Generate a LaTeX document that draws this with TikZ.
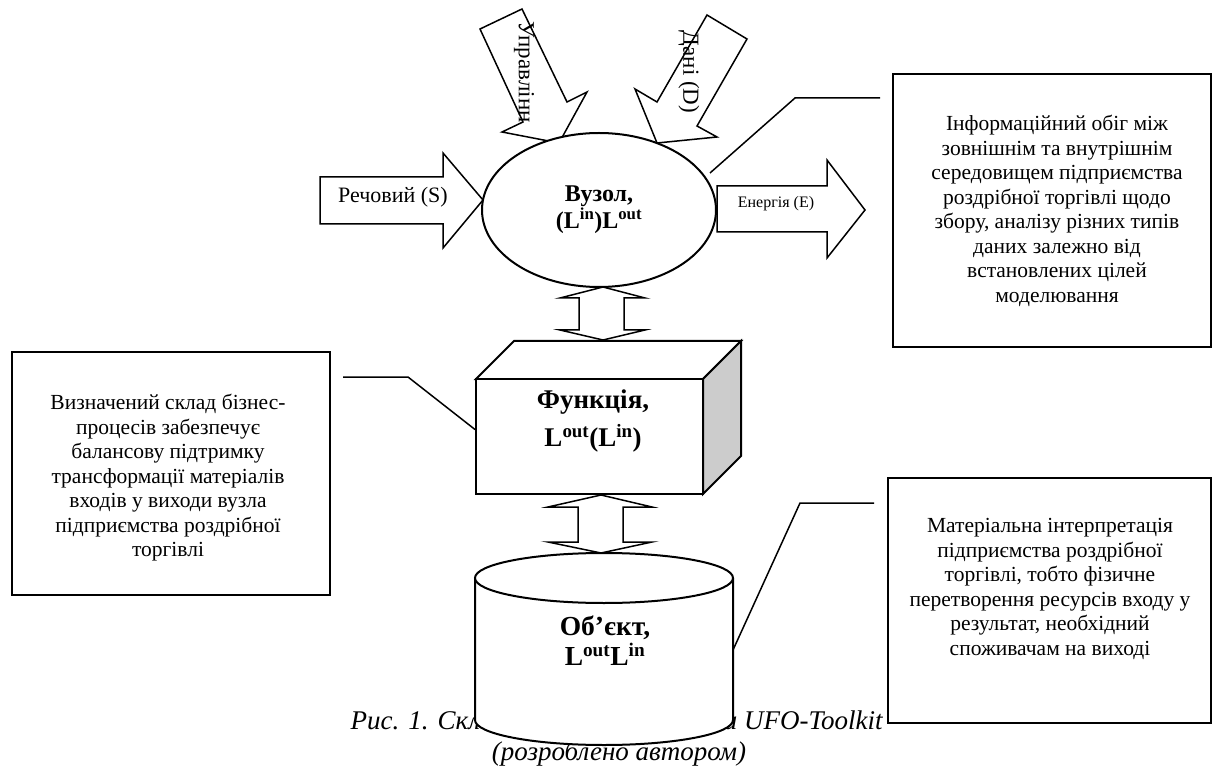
\documentclass[tikz,border=0pt]{standalone}
\usepackage{fontspec}
\setmainfont{Liberation Serif}
\usetikzlibrary{shapes.geometric}
\def\sx#1{\textsuperscript{#1}}

\tikzset{
  blockarrow/.style={draw, line width=1.5pt, fill=white, line join=miter},
  shapeline/.style={draw, line width=2pt, fill=white},
  notebox/.style={draw, line width=1.5pt, fill=white, inner sep=0pt},
  notetext/.style={align=center, font=\fontsize{21.5}{24.5}\selectfont},
  boldlbl/.style={align=center, font=\fontsize{24}{24}\selectfont\bfseries},
  flowlbl/.style={font=\fontsize{22}{24}\selectfont},
  callout/.style={line width=1.5pt},
  capt/.style={font=\fontsize{27}{30}\selectfont\itshape},
}

\begin{document}
\begin{tikzpicture}[x=1pt,y=-1pt]
			%%%%% START %%%%%
			\useasboundingbox (0,0) rectangle (1213,767);
			
			% caption, partly hidden by the cylinder
			\node[capt, anchor=base west] (cap1) at (347,729) {Рис. 1. Складові моделей вузла за UFO-Toolkit};
			\node[capt, anchor=base] (cap2) at (619,760) {(розроблено автором)};
			
			% flows into the node
			\draw[blockarrow] (320,177) -- (443,177) -- (443,153) -- (483,200) -- (443,248) -- (443,224) -- (320,224) -- cycle;
			\node[flowlbl] (rech) at (393,197) {Речовий (S)};
			
			\draw[blockarrow] (480,29) -- (522,9) -- (567,102) -- (587,92) -- (559,143) -- (502,132) -- (523,122) -- cycle;
			\node[flowlbl, rotate=-90, font=\fontsize{23}{24}\selectfont] (upr) at (524,72) {Управлінн};
			
			\draw[blockarrow] (707,15) -- (747,39) -- (697,126) -- (717,137) -- (657,143) -- (635,89) -- (657,102) -- cycle;
			\node[flowlbl, rotate=-90, font=\fontsize{23}{24}\selectfont] (dani) at (689,72) {Дані (D)};
			
			\draw[blockarrow] (717,186) -- (827,186) -- (827,160) -- (865,210) -- (827,258) -- (827,232) -- (717,232) -- cycle;
			\node[font=\fontsize{16}{20}\selectfont] (ener) at (776,204) {Енергія (Е)};
			
			\node[shapeline, ellipse, minimum width=234, minimum height=154, inner sep=0pt, boldlbl] (vuzol) at (599,210) {Вузол,\\(L\sx{in})L\sx{out}};
			
			% node <-> function
			\draw[blockarrow] (603,287) -- (645,298) -- (624,298) -- (624,330) -- (645,330) -- (603,340) -- (560,330) -- (579,330) -- (579,298) -- (560,298) -- cycle;
			
			\draw[shapeline] (476,379) -- (514,341) -- (741,341) -- (703,379) -- cycle;
			\draw[shapeline, fill=black!20] (703,379) -- (741,341) -- (741,456) -- (703,494) -- cycle;
			\node[shapeline, minimum width=227, minimum height=115, inner sep=0pt] (funk) at (589.5,436.5) {};
			\node[boldlbl, font=\fontsize{27}{38}\selectfont\bfseries] (funklbl) at (593,421) {Функція,\\L\sx{out}(L\sx{in})};
			
			% function <-> object
			\draw[blockarrow] (601,495) -- (652,507) -- (623,507) -- (623,542) -- (652,542) -- (601,553) -- (548,542) -- (578,542) -- (578,507) -- (548,507) -- cycle;
			
			\draw[shapeline] (475,578) -- (475,720) arc[start angle=180, end angle=360, x radius=129pt, y radius=25pt] -- (733,578);
			\draw[shapeline] (604,578) ellipse [x radius=129pt, y radius=25pt];
			\node[boldlbl, font=\fontsize{27.5}{30}\selectfont\bfseries] (obj) at (605,641) {Об’єкт,\\L\sx{out}L\sx{in}};
			
			% notes
			\node[notebox, minimum width=318, minimum height=273] (infobox) at (1052,210.5) {};
			\node[notetext] (infotxt) at (1057,211) {Інформаційний обіг між\\зовнішнім та внутрішнім\\середовищем підприємства\\роздрібної торгівлі щодо\\збору, аналізу різних типів\\даних залежно від\\встановлених цілей\\моделювання};
			
			\node[notebox, minimum width=318, minimum height=243] (bizbox) at (171,473.5) {};
			\node[notetext] (biztxt) at (168,478) {Визначений склад бізнес-\\процесів забезпечує\\балансову підтримку\\трансформації матеріалів\\входів у виходи вузла\\підприємства роздрібної\\торгівлі};
			
			\node[notebox, minimum width=323, minimum height=245] (matbox) at (1049.5,600.5) {};
			\node[notetext] (mattxt) at (1050,589) {Матеріальна інтерпретація\\підприємства роздрібної\\торгівлі, тобто фізичне\\перетворення ресурсів входу у\\результат, необхідний\\споживачам на виході};
			
			% callout lines
			\coordinate (infoA) at (710,173);
			\coordinate (infoB) at (795,98);
			\coordinate (infoC) at (880,98);
			\draw[callout] (infoA) -- (infoB) -- (infoC);
			
			\coordinate (bizA) at (343,377);
			\coordinate (bizB) at (408,377);
			\draw[callout] (bizA) -- (bizB) -- ([yshift=7pt]funk.west);
			
			\coordinate (matA) at (733,650);
			\coordinate (matB) at (800,503);
			\coordinate (matC) at (874,503);
			\draw[callout] (matA) -- (matB) -- (matC);
			
			%%%%% END %%%%%
\end{tikzpicture}
\end{document}
